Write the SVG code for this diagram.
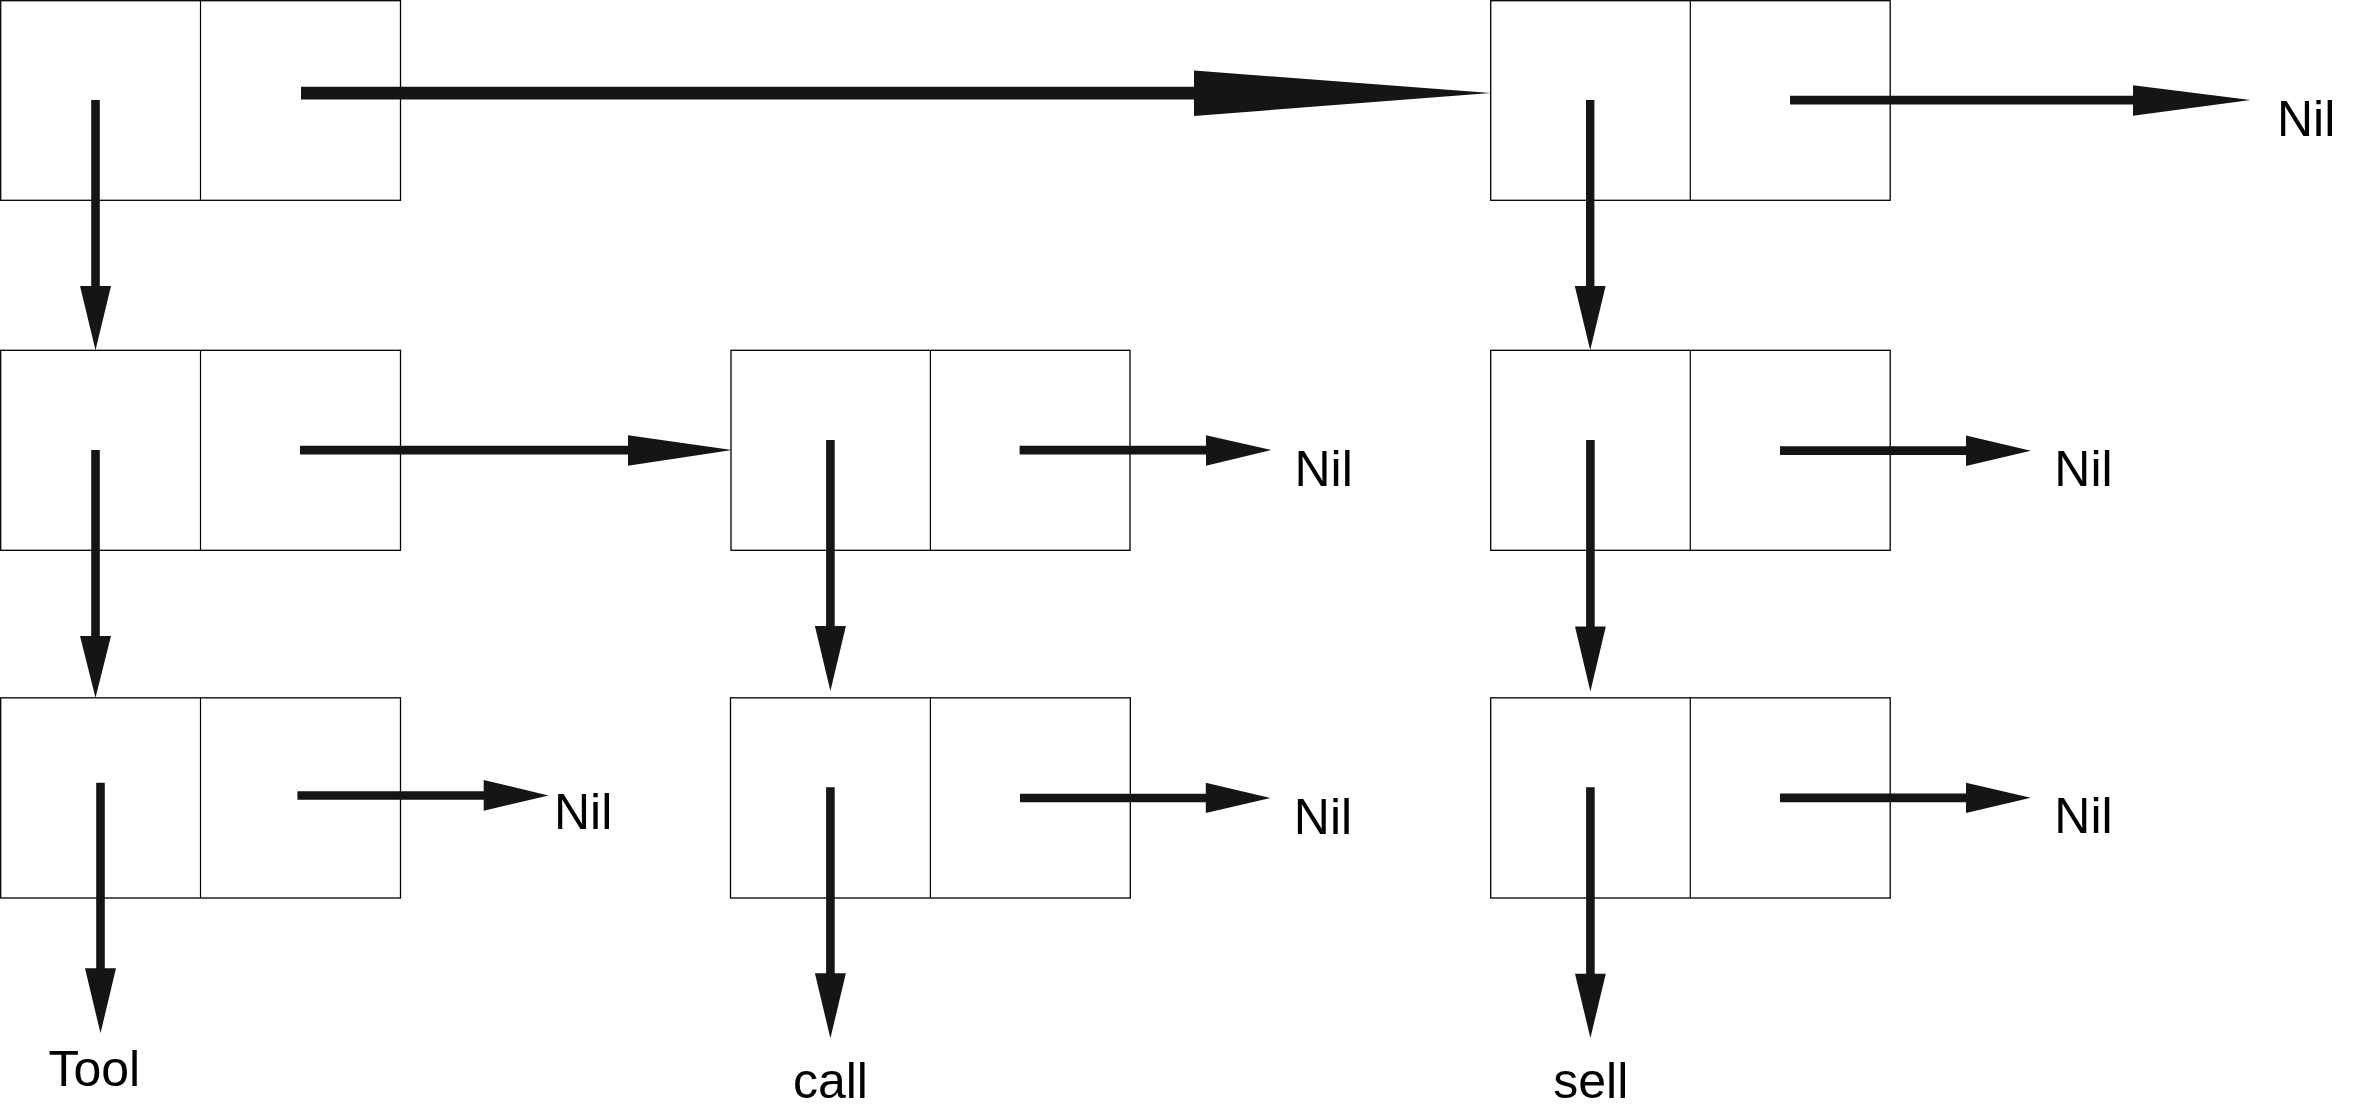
<svg xmlns="http://www.w3.org/2000/svg" width="2355" height="1110" viewBox="0 0 2355 1110">
<style>
.cell{fill:#fff;stroke:#000;stroke-width:1.3}
.div{stroke:#000;stroke-width:1.2}
.arr{fill:#151515;stroke:none}
.lbl{font-family:"Liberation Sans",Arial,sans-serif;font-size:50px;fill:#000}
</style>
<rect width="2355" height="1110" fill="#fff"/>
<g id="nodes">
<g id="n1"><rect class="cell" x="0.7" y="0.7" width="399.8" height="199.6"/><line class="div" x1="200.5" y1="0.7" x2="200.5" y2="200.3"/></g>
<g id="n2"><rect class="cell" x="1490.7" y="0.7" width="399.5" height="199.6"/><line class="div" x1="1690.3" y1="0.7" x2="1690.3" y2="200.3"/></g>
<g id="n3"><rect class="cell" x="0.7" y="350.3" width="399.8" height="200"/><line class="div" x1="200.5" y1="350.3" x2="200.5" y2="550.3"/></g>
<g id="n4"><rect class="cell" x="731" y="350.3" width="399" height="200"/><line class="div" x1="930.4" y1="350.3" x2="930.4" y2="550.3"/></g>
<g id="n5"><rect class="cell" x="1490.7" y="350.3" width="399.5" height="200"/><line class="div" x1="1690.3" y1="350.3" x2="1690.3" y2="550.3"/></g>
<g id="n6"><rect class="cell" x="0.7" y="697.8" width="399.8" height="200.2"/><line class="div" x1="200.5" y1="697.8" x2="200.5" y2="898"/></g>
<g id="n7"><rect class="cell" x="730.5" y="697.8" width="399.8" height="200.2"/><line class="div" x1="930.4" y1="697.8" x2="930.4" y2="898"/></g>
<g id="n8"><rect class="cell" x="1490.7" y="697.8" width="399.5" height="200.2"/><line class="div" x1="1690.3" y1="697.8" x2="1690.3" y2="898"/></g>
</g>
<g id="connectors">
<path class="arr" d="M301 86.8 H1194 V70.5 L1490.7 92.9 L1194 116 V99.4 H301 Z"/>
<path class="arr" d="M1790 95.7 H2133 V85.2 L2250.5 100 L2133 115.7 V104.5 H1790 Z"/>
<path class="arr" d="M300 445.7 H628 V435.3 L732 450 L628 465.7 V454.5 H300 Z"/>
<path class="arr" d="M1019.6 445.7 H1206 V435.3 L1271.4 450 L1206 465.7 V454.5 H1019.6 Z"/>
<path class="arr" d="M1780 446.3 H1966 V435.5 L2030.8 450.7 L1966 466 V455 H1780 Z"/>
<path class="arr" d="M297.4 791.2 H483.7 V780 L548.5 795.4 L483.7 810.7 V799.8 H297.4 Z"/>
<path class="arr" d="M1020 793.7 H1205.8 V782.7 L1270.5 798 L1205.8 813 V802.3 H1020 Z"/>
<path class="arr" d="M1780 793.4 H1966 V782.7 L2030.8 797.8 L1966 813 V802.2 H1780 Z"/>
<path class="arr" d="M91.2 100 H99.8 V286 H111 L95.5 350.3 L80 286 H91.2 Z"/>
<path class="arr" d="M91.2 450 H99.8 V636 H111 L95.5 697.7 L80 636 H91.2 Z"/>
<path class="arr" d="M96.2 782.7 H104.8 V968.3 H116 L100.5 1033.3 L85 968.3 H96.2 Z"/>
<path class="arr" d="M826.1 440 H834.7 V626 H845.9 L830.4 691 L814.9 626 H826.1 Z"/>
<path class="arr" d="M826.1 787.3 H834.7 V973.3 H845.9 L830.4 1038.3 L814.9 973.3 H826.1 Z"/>
<path class="arr" d="M1586 100 H1594.4 V286 H1605.6 L1590.2 350.3 L1574.8 286 H1586 Z"/>
<path class="arr" d="M1586.1 440 H1594.7 V626.5 H1605.8 L1590.4 691.5 L1575 626.5 H1586.1 Z"/>
<path class="arr" d="M1586.1 787.3 H1594.7 V973.8 H1605.8 L1590.4 1038 L1575 973.8 H1586.1 Z"/>
</g>
<g id="labels">
<text class="lbl" x="2277" y="136">Nil</text>
<text class="lbl" x="1294.5" y="485.5">Nil</text>
<text class="lbl" x="2054.3" y="485.7">Nil</text>
<text class="lbl" x="554" y="829">Nil</text>
<text class="lbl" x="1293.8" y="834">Nil</text>
<text class="lbl" x="2054.3" y="833.4">Nil</text>
<text class="lbl" x="48.5" y="1086">Tool</text>
<text class="lbl" x="792.9" y="1098.3">call</text>
<text class="lbl" x="1553.3" y="1098.3">sell</text>
</g>
</svg>
